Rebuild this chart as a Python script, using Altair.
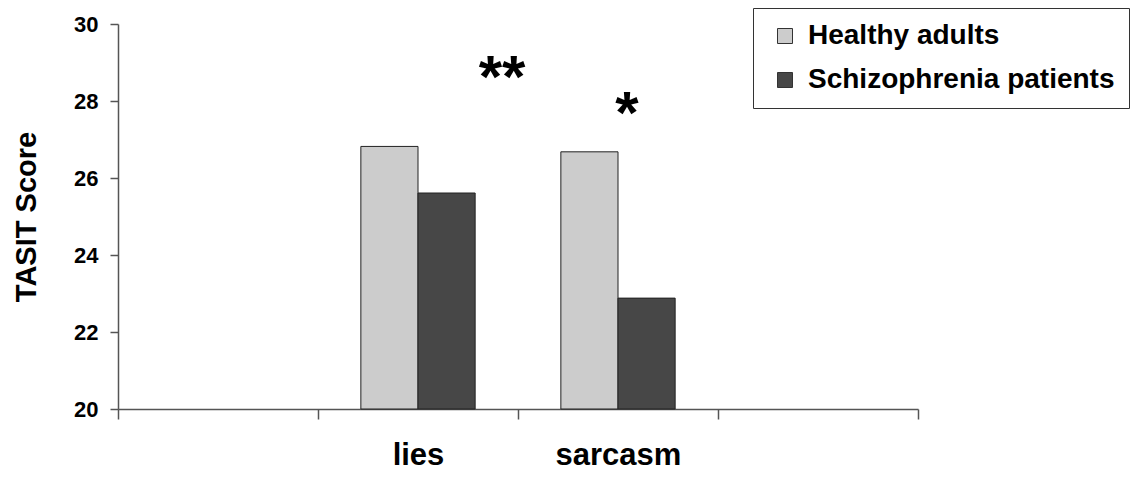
import altair as alt
import pandas as pd

# ---- data ----
categories = ["gap_left", "lies", "sarcasm", "gap_right"]
groups = ["Healthy adults", "Schizophrenia patients"]
colors = ["#cccccc", "#474747"]

task = ["lies", "lies", "sarcasm", "sarcasm"]
group = ["Healthy adults", "Schizophrenia patients", "Healthy adults", "Schizophrenia patients"]
score = [26.82, 25.61, 26.68, 22.88]

y_ticks = [20, 22, 24, 26, 28, 30]

sig_task = ["lies", "sarcasm"]
sig_mark = ["**", "*"]
sig_y = [28.1, 27.17]

FONT = "Liberation Sans"

df = pd.DataFrame({"task": task, "group": group, "score": score})
sig_df = pd.DataFrame({"task": sig_task, "mark": sig_mark, "y": sig_y})

x_scale = alt.Scale(domain=categories, paddingInner=0, paddingOuter=0)
y_scale = alt.Scale(domain=[20, 30], zero=False, nice=False)

bars = alt.Chart(df).mark_bar(stroke="#222222", strokeWidth=1).encode(
    x=alt.X(
        "task:N",
        scale=x_scale,
        axis=alt.Axis(
            title=None,
            labelExpr="indexof(datum.label, 'gap') == 0 ? '' : datum.label",
            tickBand="extent",
            labelAngle=0,
            labelFont=FONT,
            labelFontSize=31,
            labelFontWeight="bold",
            labelColor="black",
            labelPadding=21,
            tickSize=10,
            domainColor="#555555",
            tickColor="#555555",
            domainWidth=1.5,
            tickWidth=1.5,
        ),
    ),
    xOffset=alt.XOffset(
        "group:N",
        sort=groups,
        scale=alt.Scale(domain=groups, paddingInner=0, paddingOuter=0.75),
    ),
    y=alt.Y(
        "score:Q",
        scale=y_scale,
        axis=alt.Axis(
            title="TASIT Score",
            values=y_ticks,
            grid=False,
            labelFont=FONT,
            labelFontSize=22,
            labelFontWeight="bold",
            labelColor="black",
            labelPadding=12,
            tickSize=8,
            domainColor="#555555",
            tickColor="#555555",
            domainWidth=1.5,
            tickWidth=1.5,
            titleFont=FONT,
            titleFontSize=29,
            titleFontWeight="bold",
            titleColor="black",
            titlePadding=32,
        ),
    ),
    y2=alt.datum(20),
    fill=alt.Fill(
        "group:N",
        scale=alt.Scale(domain=groups, range=colors),
        legend=alt.Legend(
            title=None,
            orient="none",
            legendX=635,
            legendY=-16,
            direction="vertical",
            labelFont=FONT,
            labelFontSize=28,
            labelFontWeight="bold",
            labelColor="black",
            labelOffset=9,
            labelLimit=0,
            symbolType="square",
            symbolSize=225,
            symbolStrokeColor="#333333",
            symbolStrokeWidth=1,
            symbolOpacity=1,
            symbolOffset=4,
            strokeColor="#333333",
            fillColor="white",
            padding=14,
            rowPadding=16,
        ),
    ),
)

sig2 = alt.Chart(sig_df).transform_filter(alt.datum.mark == "**").mark_text(
    font=FONT, fontSize=60, fontWeight="bold", color="black", baseline="alphabetic", dx=84
).encode(
    x=alt.X("task:N", scale=x_scale),
    y=alt.Y("y:Q", scale=y_scale),
    text="mark:N",
)

sig1 = alt.Chart(sig_df).transform_filter(alt.datum.mark == "*").mark_text(
    font=FONT, fontSize=60, fontWeight="bold", color="black", baseline="alphabetic", dx=9
).encode(
    x=alt.X("task:N", scale=x_scale),
    y=alt.Y("y:Q", scale=y_scale),
    text="mark:N",
)

chart = (
    alt.layer(bars, sig2, sig1)
    .properties(
        width=800,
        height=385,
        background="white",
        autosize=alt.AutoSizeParams(type="none"),
        padding={"left": 110, "top": 16, "right": 221, "bottom": 68},
    )
    .configure_view(strokeWidth=0)
)

chart.save("out.html", embed_options={"renderer": "svg", "actions": False})
